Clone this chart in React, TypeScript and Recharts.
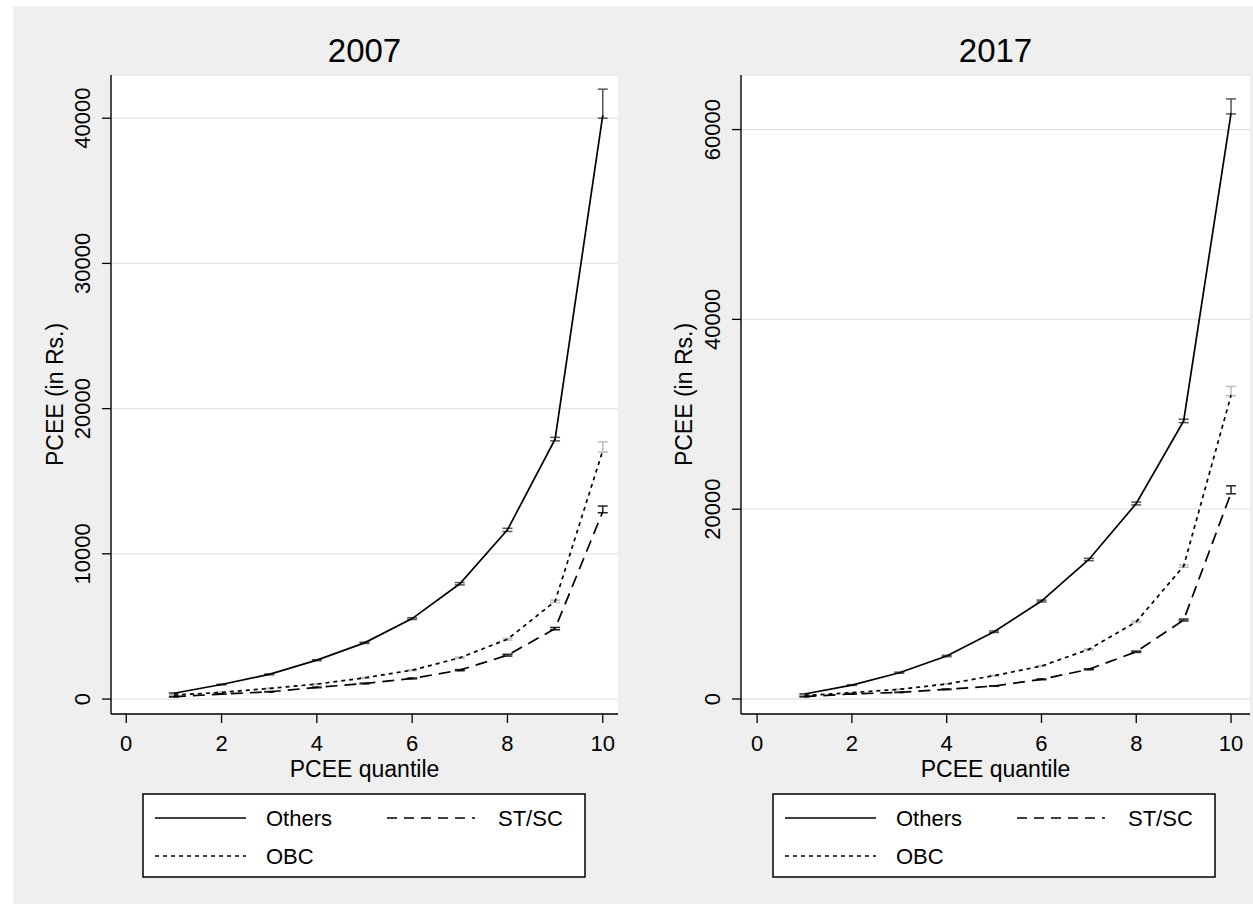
import React from 'react';
import { LineChart, Line, XAxis, YAxis, CartesianGrid, ErrorBar } from 'recharts';

// PCEE quantiles (x)
const quantiles = [1, 2, 3, 4, 5, 6, 7, 8, 9, 10];

// 2007 means and error offsets [below, above]
const others2007 = [400, 1000, 1700, 2680, 3870, 5540, 7940, 11650, 17900, 40200];
const obc2007 = [270, 460, 730, 1030, 1460, 1990, 2840, 4120, 6730, 17100];
const stsc2007 = [160, 340, 500, 800, 1070, 1420, 1990, 3020, 4850, 12900];
const others2007Err = [[20, 20], [25, 25], [30, 30], [35, 35], [45, 45], [60, 60], [80, 80], [110, 110], [120, 120], [200, 1800]];
const obc2007Err = [[10, 10], [15, 15], [20, 20], [25, 25], [30, 30], [35, 35], [45, 45], [60, 60], [80, 80], [100, 600]];
const stsc2007Err = [[8, 8], [10, 10], [15, 15], [20, 20], [25, 25], [30, 30], [40, 40], [60, 60], [80, 80], [70, 390]];

// 2017
const others2017 = [530, 1470, 2770, 4530, 7090, 10320, 14700, 20600, 29300, 61700];
const obc2017 = [350, 670, 1020, 1580, 2460, 3470, 5230, 8140, 14000, 32000];
const stsc2017 = [250, 530, 700, 1020, 1370, 2070, 3130, 4980, 8320, 21700];
const others2017Err = [[30, 30], [40, 40], [60, 60], [70, 70], [80, 80], [100, 100], [120, 120], [150, 150], [180, 180], [50, 1530]];
const obc2017Err = [[15, 15], [20, 20], [25, 25], [30, 30], [40, 40], [50, 50], [70, 70], [90, 90], [120, 120], [50, 930]];
const stsc2017Err = [[10, 10], [15, 15], [20, 20], [25, 25], [30, 30], [40, 40], [50, 50], [70, 70], [100, 100], [80, 760]];

const xTicks = [0, 2, 4, 6, 8, 10];
const yTicks2007 = [0, 10000, 20000, 30000, 40000];
const yTicks2017 = [0, 20000, 40000, 60000];

const FONT = '"Liberation Sans", Arial, sans-serif';
const OBC_DASH = '4 4';
const STSC_DASH = '12 7';

function buildRows(others: number[], obc: number[], stsc: number[], oe: number[][], be: number[][], se: number[][]) {
  return quantiles.map((q, i) => ({
    q,
    others: others[i],
    obc: obc[i],
    stsc: stsc[i],
    othersErr: oe[i],
    obcErr: be[i],
    stscErr: se[i],
  }));
}

const data2007 = buildRows(others2007, obc2007, stsc2007, others2007Err, obc2007Err, stsc2007Err);
const data2017 = buildRows(others2017, obc2017, stsc2017, others2017Err, obc2017Err, stsc2017Err);

const YTick = (p: any) => (
  <text
    x={p.x}
    y={p.y}
    transform={`rotate(-90 ${p.x} ${p.y})`}
    textAnchor="middle"
    fontSize={22}
    fontFamily={FONT}
    fill="#000"
  >
    {p.payload.value}
  </text>
);

const XTick = (p: any) => (
  <text x={p.x} y={p.y} textAnchor="middle" fontSize={22} fontFamily={FONT} fill="#000">
    {p.payload.value}
  </text>
);

interface PanelProps {
  data: any[];
  left: number;
  width: number;
  axisWidth: number;
  rightMargin: number;
  yTicks: number[];
  yDomain: [number, number];
  xDomain: [number, number];
}

function Panel({ data, left, width, axisWidth, rightMargin, yTicks, yDomain, xDomain }: PanelProps) {
  return (
    <div style={{ position: 'absolute', left, top: 0 }}>
      <LineChart width={width} height={904} data={data} margin={{ top: 75, right: rightMargin, bottom: 0, left: 0 }}>
        <CartesianGrid vertical={false} stroke="#e4e4e4" strokeWidth={1.3} fill="#fff" fillOpacity={1} />
        <XAxis
          type="number"
          dataKey="q"
          domain={xDomain}
          allowDataOverflow
          ticks={xTicks}
          height={190}
          tickSize={9}
          tickMargin={28}
          tick={<XTick />}
          axisLine={{ stroke: '#000', strokeWidth: 1.4 }}
          tickLine={{ stroke: '#000', strokeWidth: 1.3 }}
        />
        <YAxis
          type="number"
          domain={yDomain}
          allowDataOverflow
          ticks={yTicks}
          width={axisWidth}
          tickSize={9}
          tickMargin={12}
          tick={<YTick />}
          axisLine={{ stroke: '#000', strokeWidth: 1.4 }}
          tickLine={{ stroke: '#000', strokeWidth: 1.3 }}
        />
        <Line dataKey="others" stroke="#000" strokeWidth={1.7} dot={false} isAnimationActive={false}>
          <ErrorBar dataKey="othersErr" width={5} stroke="#555" strokeWidth={1.5} />
        </Line>
        <Line dataKey="obc" stroke="#000" strokeWidth={1.7} strokeDasharray={OBC_DASH} dot={false} isAnimationActive={false}>
          <ErrorBar dataKey="obcErr" width={5} stroke="#bdbdbd" strokeWidth={1.5} />
        </Line>
        <Line dataKey="stsc" stroke="#000" strokeWidth={1.7} strokeDasharray={STSC_DASH} dot={false} isAnimationActive={false}>
          <ErrorBar dataKey="stscErr" width={5} stroke="#222" strokeWidth={1.5} />
        </Line>
      </LineChart>
    </div>
  );
}

function Legend({ dx }: { dx: number }) {
  return (
    <g transform={`translate(${dx},0)`} fontFamily={FONT} fontSize={22} fill="#000">
      <rect x={143} y={794} width={442} height={83} fill="#fff" stroke="#000" strokeWidth={1.5} />
      <line x1={155} x2={246} y1={818} y2={818} stroke="#000" strokeWidth={1.6} />
      <text x={266} y={826}>Others</text>
      <line x1={387} x2={475} y1={818} y2={818} stroke="#000" strokeWidth={1.6} strokeDasharray="10 7" />
      <text x={498} y={826}>ST/SC</text>
      <line x1={155} x2={246} y1={856} y2={856} stroke="#000" strokeWidth={1.6} strokeDasharray={OBC_DASH} />
      <text x={266} y={864}>OBC</text>
    </g>
  );
}

export default function App() {
  return (
    <div style={{ position: 'absolute', left: 0, top: 0, width: 1253, height: 904, background: '#fff', overflow: 'hidden' }}>
      <div style={{ position: 'absolute', left: 13, top: 6, width: 1240, height: 898, background: '#efefef' }} />
      <Panel
        data={data2007}
        left={0}
        width={626}
        axisWidth={111}
        rightMargin={8}
        yTicks={yTicks2007}
        yDomain={[-1030, 42975]}
        xDomain={[-0.32, 10.32]}
      />
      <Panel
        data={data2017}
        left={626}
        width={627}
        axisWidth={115}
        rightMargin={3}
        yTicks={yTicks2017}
        yDomain={[-1580, 65750]}
        xDomain={[-0.34, 10.4]}
      />
      <svg width={1253} height={904} style={{ position: 'absolute', left: 0, top: 0, pointerEvents: 'none' }}>
        <g fontFamily={FONT} fill="#000">
          <text x={364.5} y={62} textAnchor="middle" fontSize={33}>2007</text>
          <text x={995.5} y={62} textAnchor="middle" fontSize={33}>2017</text>
          <text x={364.5} y={777} textAnchor="middle" fontSize={23}>PCEE quantile</text>
          <text x={995.5} y={777} textAnchor="middle" fontSize={23}>PCEE quantile</text>
          <text x={63} y={394.5} textAnchor="middle" fontSize={23} transform="rotate(-90 63 394.5)">PCEE (in Rs.)</text>
          <text x={692} y={394.5} textAnchor="middle" fontSize={23} transform="rotate(-90 692 394.5)">PCEE (in Rs.)</text>
        </g>
        <Legend dx={0} />
        <Legend dx={630} />
      </svg>
    </div>
  );
}
